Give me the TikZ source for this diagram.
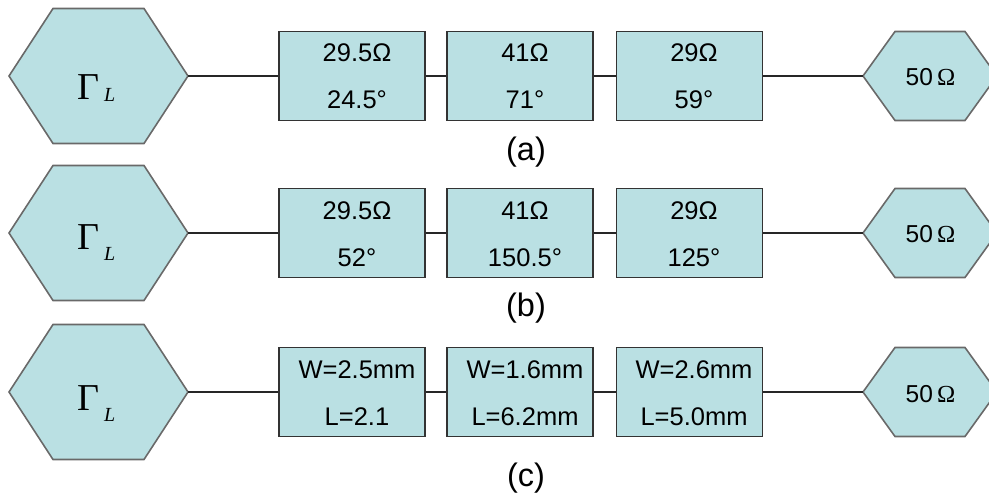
\documentclass[tikz,border=0pt]{standalone}
\usepackage{fontspec}
\setmainfont{Liberation Sans}
\newfontfamily\seriffam{Liberation Serif}
\definecolor{linefill}{RGB}{186,224,227}
\definecolor{hexedge}{RGB}{105,105,105}
\begin{document}
\begin{tikzpicture}[x=1pt,y=-1pt,
  tline/.style={draw=black!85, line width=1.4pt},
  section/.style={draw=black!80, line width=1.2pt, fill=linefill,
    minimum width=146pt, minimum height=89pt, inner sep=0pt},
  hexshape/.style={draw=hexedge, line width=1.6pt, fill=linefill, line join=miter},
  val/.style={font=\fontsize{25.5}{30}\selectfont, inner sep=0pt, anchor=base},
  gam/.style={font=\seriffam\fontsize{38}{40}\selectfont, inner sep=0pt, anchor=base west},
  sub/.style={font=\seriffam\itshape\fontsize{20}{22}\selectfont, inner sep=0pt, anchor=base west},
  ohm/.style={font=\fontsize{24.5}{28}\selectfont, inner sep=0pt, anchor=base},
  captext/.style={font=\fontsize{32.5}{36}\selectfont, inner sep=0pt}
]
\useasboundingbox (0,0) rectangle (989,500);
\clip (0,0) rectangle (989,500);

% one row per network: load hexagon, three line sections, source hexagon
\foreach \r/\cy/\gb/\lb/\ta/\tb/\tc/\td/\te/\tf/\lbl/\ly in {
  a/76/24/25.7/29.5Ω/24.5°/41Ω/71°/29Ω/59°/(a)/76,
  b/233/17/27/29.5Ω/52°/41Ω/150.5°/29Ω/125°/(b)/75,
  c/392/18/29/W=2.5mm/L=2.1/W=1.6mm/L=6.2mm/W=2.6mm/L=5.0mm/(c)/86}{
  % load hexagon
  \draw[hexshape] (9,\cy) -- (53,\cy-67.5) -- (144,\cy-67.5) -- (188,\cy)
    -- (144,\cy+67.5) -- (53,\cy+67.5) -- cycle;
  \coordinate (gR\r) at (188,\cy);
  \node[gam] (gG\r) at (77,\cy+\gb) {Γ};
  \node[sub] (gL\r) at (104,\cy+\lb) {L};
  % line sections
  \node[section] (s1\r) at (352,\cy) {};
  \node[section] (s2\r) at (520,\cy) {};
  \node[section] (s3\r) at (689.5,\cy) {};
  \node[val] (v1\r) at (357,\cy-14) {\ta};
  \node[val] (w1\r) at (357,\cy+33) {\tb};
  \node[val] (v2\r) at (525,\cy-14) {\tc};
  \node[val] (w2\r) at (525,\cy+33) {\td};
  \node[val] (v3\r) at (694,\cy-14) {\te};
  \node[val] (w3\r) at (694,\cy+33) {\tf};
  % source hexagon
  \draw[hexshape] (863,\cy) -- (895,\cy-44.5) -- (965,\cy-44.5) -- (997,\cy)
    -- (965,\cy+44.5) -- (895,\cy+44.5) -- cycle;
  \coordinate (hL\r) at (863,\cy);
  \node[ohm] (o\r) at (930.5,\cy+10) {50\,{\seriffam Ω}};
  % connectors
  \draw[tline] (gR\r) -- (s1\r.west);
  \draw[tline] (s1\r.east) -- (s2\r.west);
  \draw[tline] (s2\r.east) -- (s3\r.west);
  \draw[tline] (s3\r.east) -- (hL\r);
  % caption
  \node[captext] (cap\r) at (526,\cy+\ly) {\lbl};
}
\end{tikzpicture}
\end{document}
